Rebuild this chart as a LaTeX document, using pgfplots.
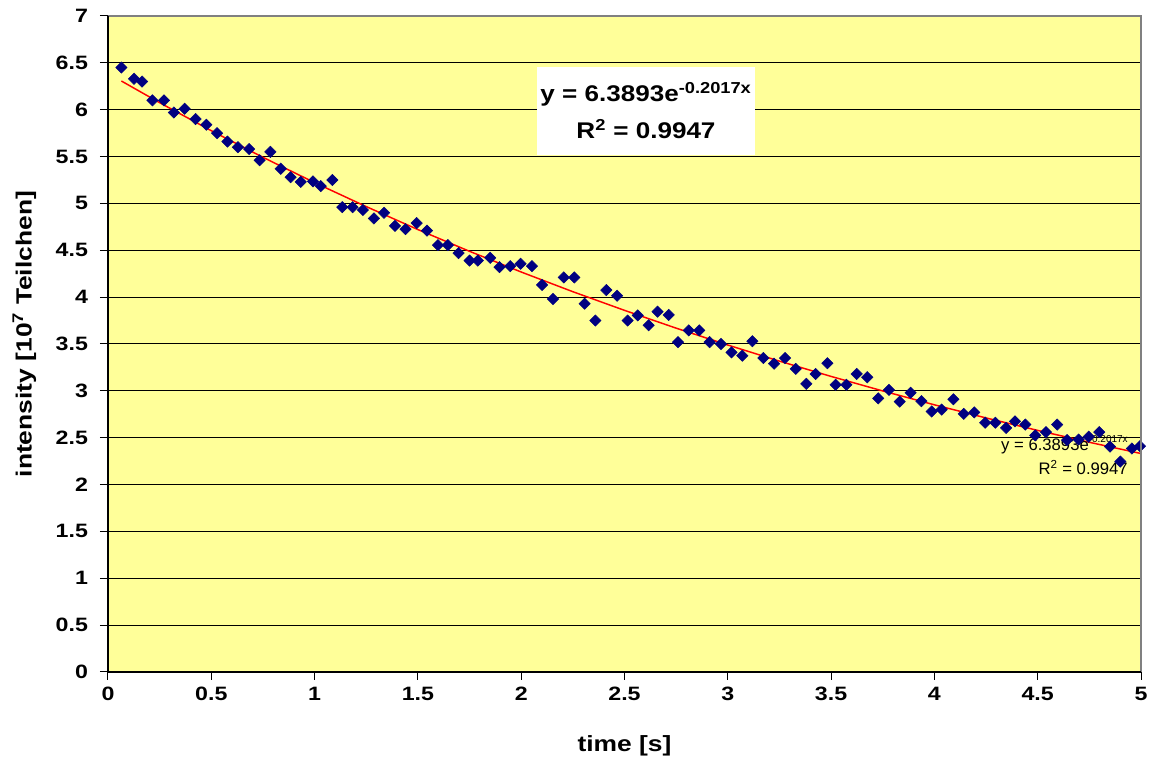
\documentclass[border=0pt]{standalone}
\usepackage{fontspec}
\setmainfont{Liberation Sans}[FakeStretch=1.2]
\newfontfamily\eqfont{Liberation Sans}[FakeStretch=1.15]
\newfontfamily\smallfont{Liberation Sans}
\usepackage{pgfplots}
\pgfplotsset{compat=1.18}
\definecolor{plotbg}{HTML}{FFFF99}
\definecolor{navy}{HTML}{000080}
\definecolor{framegray}{HTML}{808080}

\pgfplotstableread{
x y
0.065 6.45
0.126 6.33
0.165 6.30
0.215 6.10
0.271 6.10
0.319 5.97
0.371 6.01
0.424 5.90
0.476 5.84
0.528 5.75
0.578 5.66
0.629 5.60
0.683 5.58
0.734 5.46
0.786 5.55
0.836 5.37
0.884 5.28
0.933 5.23
0.992 5.235
1.030 5.185
1.086 5.25
1.134 4.96
1.184 4.96
1.234 4.93
1.287 4.84
1.336 4.90
1.389 4.76
1.440 4.725
1.494 4.79
1.544 4.71
1.597 4.555
1.645 4.555
1.697 4.47
1.750 4.39
1.790 4.39
1.850 4.42
1.895 4.32
1.947 4.33
1.997 4.356
2.052 4.331
2.101 4.13
2.154 3.98
2.206 4.21
2.257 4.21
2.307 3.93
2.359 3.75
2.412 4.075
2.464 4.015
2.515 3.75
2.564 3.805
2.617 3.70
2.660 3.845
2.714 3.81
2.759 3.52
2.811 3.645
2.862 3.645
2.912 3.52
2.967 3.50
3.018 3.41
3.070 3.375
3.119 3.53
3.172 3.35
3.224 3.29
3.277 3.35
3.329 3.235
3.380 3.075
3.425 3.18
3.482 3.295
3.522 3.065
3.574 3.065
3.624 3.18
3.675 3.145
3.728 2.92
3.780 3.01
3.832 2.885
3.885 2.98
3.937 2.89
3.987 2.78
4.035 2.80
4.092 2.91
4.142 2.755
4.193 2.77
4.246 2.66
4.295 2.66
4.347 2.605
4.390 2.675
4.440 2.64
4.488 2.525
4.540 2.56
4.594 2.64
4.642 2.475
4.698 2.48
4.747 2.51
4.798 2.56
4.850 2.405
4.900 2.245
4.956 2.385
4.995 2.41
}\datatable

\pgfplotstableread{
x y
0.065 6.306
0.25 6.075
0.5 5.776
0.75 5.492
1.0 5.222
1.25 4.966
1.5 4.721
1.75 4.489
2.0 4.268
2.25 4.058
2.5 3.859
2.75 3.669
3.0 3.489
3.25 3.317
3.5 3.154
3.75 2.999
4.0 2.851
4.25 2.711
4.5 2.578
4.75 2.451
5.0 2.331
}\fittable

\begin{document}
\begin{tikzpicture}
\begin{axis}[
  at={(0,0)}, anchor=south west,
  scale only axis,
  width=774.75pt, height=492pt,
  xmin=0, xmax=5, ymin=0, ymax=7,
  xtick={0,0.5,...,5}, ytick={0,0.5,...,7},
  xtick pos=left, ytick pos=left,
  tick align=outside,
  major tick length=6pt,
  tick style={black, line width=0.75pt},
  ymajorgrids,
  grid style={black, line width=0.75pt},
  axis background/.style={fill=plotbg},
  axis line style={draw=none},
  /pgf/number format/assume math mode=true,
  ticklabel style={font=\fontsize{14.5}{16}\selectfont\bfseries},
  yticklabel style={xshift=-5.5pt},
  xticklabel style={yshift=-2pt},
  xlabel={time [s]},
  ylabel={intensity [10\textsuperscript{7} Teilchen]},
  label style={font=\fontsize{16.5}{19}\selectfont\bfseries},
  xlabel style={at={(axis description cs:0.5,-0.112)}, anchor=center},
  ylabel style={at={(axis description cs:-0.081,0.515)}, anchor=center},
]
\addplot[only marks, mark=square*, mark size=3pt, mark options={rotate=45, fill=navy, draw=navy}] table[x=x,y=y] {\datatable};
\addplot[red, line width=1.1pt, no marks] table[x=x,y=y] {\fittable};
\node[fill=white, inner sep=0pt, minimum width=163.5pt, minimum height=66pt, align=center,
      font=\eqfont\bfseries\fontsize{17}{28}\selectfont] at (axis cs:2.604,5.99)
  {y = 6.3893e\textsuperscript{-0.2017x}\\R\textsuperscript{2} = 0.9947};
\node[inner sep=0pt, anchor=east, align=right, font=\smallfont\fontsize{12.5}{18}\selectfont]
  at (axis cs:4.937,2.316)
  {y = 6.3893e\raisebox{0.9ex}{\fontsize{7.5}{8}\selectfont -0.2017x}\\R\textsuperscript{2} = 0.9947};
\end{axis}
\draw[framegray, line width=1.2pt] (current axis.north west) -- (current axis.north east) -- (current axis.south east);
\draw[black, line width=1pt] (current axis.north west) -- (current axis.south west) -- (current axis.south east);
\pgfresetboundingbox
\path[use as bounding box] (-81pt,-67.5pt) rectangle (780.75pt,504pt);
\end{tikzpicture}
\end{document}
